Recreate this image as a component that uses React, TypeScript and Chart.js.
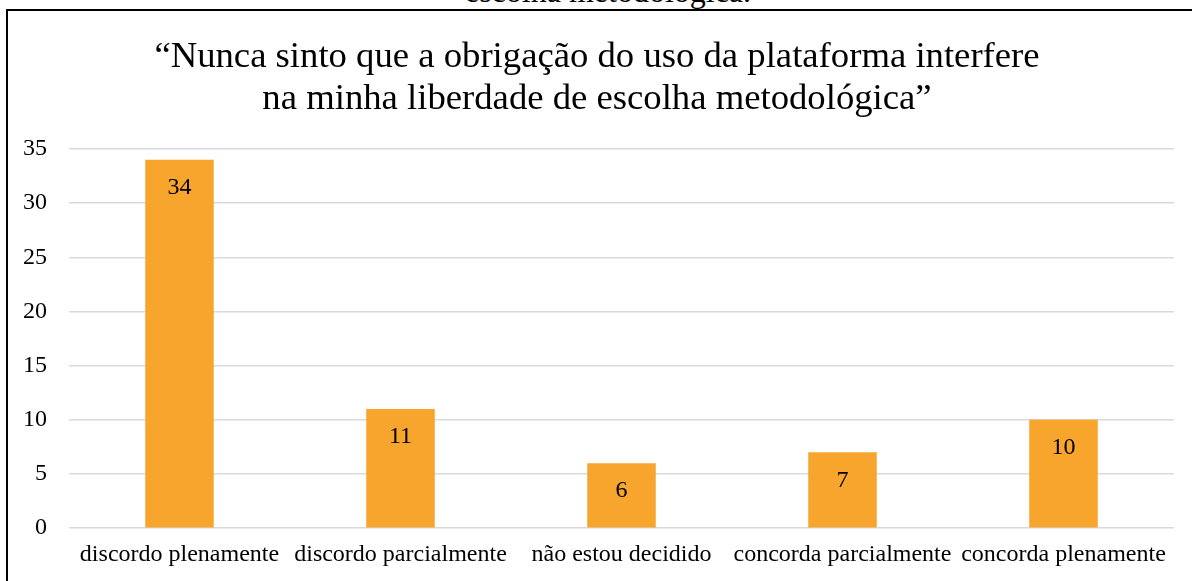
import React, { useEffect, useRef } from "react";
import { Chart, registerables } from "chart.js";

Chart.register(...registerables);

const categories = [
  "discordo plenamente",
  "discordo parcialmente",
  "não estou decidido",
  "concorda parcialmente",
  "concorda plenamente",
];
const values = [34, 11, 6, 7, 10];
const titleLines = [
  "“Nunca sinto que a obrigação do uso da plataforma interfere",
  "na minha liberdade de escolha metodológica”",
];
const clippedCaption = "escolha metodológica.";
const yMax = 35;
const yStep = 5;

const FONT = "'Liberation Serif', 'Times New Roman', serif";

const valueLabels = {
  id: "valueLabels",
  afterDatasetsDraw(chart: any) {
    const ctx = chart.ctx;
    const meta = chart.getDatasetMeta(0);
    ctx.save();
    ctx.font = `24px ${FONT}`;
    ctx.fillStyle = "#000";
    ctx.textAlign = "center";
    ctx.textBaseline = "middle";
    meta.data.forEach((bar: any, i: number) => {
      ctx.fillText(String(values[i]), bar.x, bar.y + 28);
    });
    ctx.restore();
  },
};

const centeredTitle = {
  id: "centeredTitle",
  afterDraw(chart: any) {
    const ctx = chart.ctx;
    ctx.save();
    ctx.font = `36.7px ${FONT}`;
    ctx.fillStyle = "#000";
    ctx.textAlign = "center";
    ctx.textBaseline = "middle";
    titleLines.forEach((line, i) => {
      ctx.fillText(line, 597, 57 + i * 42);
    });
    ctx.restore();
  },
};

export default function App() {
  const ref = useRef<HTMLCanvasElement>(null);
  useEffect(() => {
    const chart = new Chart(ref.current!, {
      type: "bar",
      data: {
        labels: categories,
        datasets: [
          {
            data: values,
            backgroundColor: "#F8A52D",
            borderWidth: 0,
            barPercentage: 0.31,
            categoryPercentage: 1,
          },
        ],
      },
      options: {
        animation: false,
        responsive: false,
        layout: { padding: { left: 0, right: 18, top: 149, bottom: 0 } },
        plugins: {
          legend: { display: false },
          tooltip: { enabled: false },
          title: { display: false },
        },
        scales: {
          x: {
            grid: { display: false, drawTicks: false },
            border: { display: false },
            ticks: {
              color: "#000",
              font: { family: FONT, size: 24 },
              padding: 12,
              maxRotation: 0,
              autoSkip: false,
            },
          },
          y: {
            min: 0,
            max: yMax,
            grid: { color: "#D9D9D9", lineWidth: 1.5, drawTicks: false },
            border: { display: false },
            afterFit: (s: any) => {
              s.width = 69;
            },
            ticks: {
              stepSize: yStep,
              color: "#000",
              font: { family: FONT, size: 24 },
              padding: 22,
            },
          },
        },
      },
      plugins: [valueLabels, centeredTitle],
    });
    return () => chart.destroy();
  }, []);

  return (
    <div
      style={{
        position: "fixed",
        left: 0,
        top: 0,
        width: 1192,
        height: 581,
        overflow: "hidden",
        background: "#fff",
      }}
    >
      <div
        style={{
          position: "absolute",
          left: 0,
          width: 1192,
          top: -25.5,
          textAlign: "center",
          fontFamily: FONT,
          fontSize: 32,
          lineHeight: "32px",
          color: "#000",
          paddingLeft: 24,
          boxSizing: "border-box",
        }}
      >
        {clippedCaption}
      </div>
      <div
        style={{
          position: "absolute",
          left: 6,
          top: 9,
          width: 1300,
          height: 700,
          border: "2px solid #000",
        }}
      />
      <canvas
        ref={ref}
        width={1192}
        height={581}
        style={{ position: "absolute", left: 0, top: 0 }}
      />
    </div>
  );
}
